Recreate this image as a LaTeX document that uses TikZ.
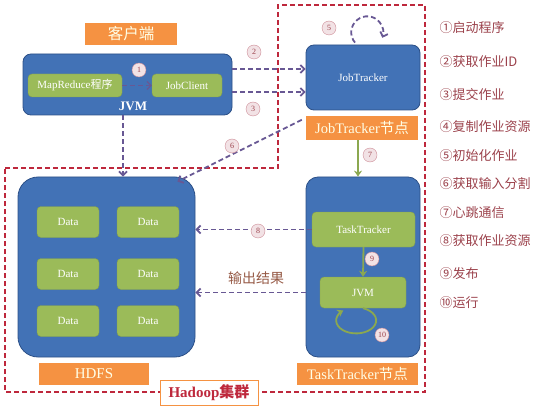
\documentclass[tikz,border=0pt]{standalone}
\usepackage{fontspec}
\setmainfont{Liberation Serif}
\newfontfamily\cjk{Noto Sans CJK SC}
\usetikzlibrary{arrows.meta,positioning}
\definecolor{boxblue}{RGB}{66,114,182}
\definecolor{boxedge}{RGB}{44,80,135}
\definecolor{leafgreen}{RGB}{155,187,89}
\definecolor{tagorange}{RGB}{245,146,66}
\definecolor{flowpurple}{RGB}{104,88,148}
\definecolor{framered}{RGB}{190,40,60}
\definecolor{notered}{RGB}{155,65,75}
\definecolor{markpink}{RGB}{205,140,150}
\definecolor{resultbrown}{RGB}{150,90,70}
\begin{document}
\begin{tikzpicture}[x=1pt,y=-1pt,
  bluebox/.style={draw=boxedge,fill=boxblue,rounded corners=8pt,line width=0.8pt,inner sep=0pt},
  greenbox/.style={fill=leafgreen,draw=leafgreen!85!black,rounded corners=4pt,text=white,inner sep=0pt,font=\fontsize{11}{12}\selectfont},
  tag/.style={fill=tagorange,text=white!90!yellow,inner sep=0pt,font=\fontsize{14.5}{16}\selectfont},
  flow/.style={draw=flowpurple,line width=1.8pt,dash pattern=on 5pt off 3pt,-{Straight Barb[length=4pt,width=8pt]}},
  pulse/.style={draw=leafgreen!90!black,line width=1.8pt,-{Stealth[length=6pt,width=8pt]}},
  numtag/.style={circle,draw=markpink,fill=markpink!25,text=notered,inner sep=0pt,minimum size=14pt,font=\fontsize{8}{8}\selectfont},
  legend/.style={anchor=west,text=notered,font=\cjk\fontsize{13}{15}\selectfont}]
  \useasboundingbox (0,0) rectangle (559,406);

  \draw[framered,line width=1.5pt,dash pattern=on 5pt off 3pt]
    (5,168) -- (278,168) -- (278,5) -- (425,5) -- (425,392) -- (5,392) -- cycle;

  \node[tag,minimum width=92pt,minimum height=22pt] (clienttag) at (131,34) {\cjk\fontsize{15.5}{17}\selectfont 客户端};
  \node[bluebox,minimum width=209pt,minimum height=61pt] (client) at (127.5,84.5) {};
  \node[greenbox,minimum width=94pt,minimum height=23pt] (mrprog) at (75,85.5) {MapReduce{\cjk 程序}};
  \node[greenbox,minimum width=70pt,minimum height=23pt] (jobclient) at (187,85.5) {JobClient};
  \node[text=white,font=\bfseries\fontsize{13}{14}\selectfont] (clientjvm) at (133,106) {JVM};

  \node[bluebox,minimum width=114pt,minimum height=65pt,text=white,font=\fontsize{11}{12}\selectfont] (jt) at (363,77.5) {JobTracker};
  \node[tag,minimum width=112pt,minimum height=24pt] (jttag) at (362,128) {JobTracker{\cjk 节点}};

  \node[bluebox,minimum width=177pt,minimum height=180pt,rounded corners=20pt] (hdfs) at (106.5,267) {};
  \foreach \col/\cx in {a/68,b/148}
    \foreach \row/\cy in {1/222,2/274,3/321}
      \node[greenbox,minimum width=62pt,minimum height=31pt] (data\col\row) at (\cx,\cy) {Data};
  \node[tag,minimum width=110pt,minimum height=22pt,font=\fontsize{15}{16}\selectfont] (hdfstag) at (94,374) {HDFS};

  \node[bluebox,minimum width=114pt,minimum height=180pt,rounded corners=12pt] (tt) at (363,267) {};
  \node[greenbox,minimum width=103pt,minimum height=35pt] (ttask) at (363.5,229.5) {TaskTracker};
  \node[greenbox,minimum width=86pt,minimum height=31pt] (ttjvm) at (363,292.5) {JVM};
  \node[tag,minimum width=121pt,minimum height=22pt] (tttag) at (357.5,374) {TaskTracker{\cjk 节点}};

  \node[fill=white,draw=tagorange,line width=0.8pt,inner sep=0pt,minimum width=98pt,minimum height=25pt,
    text=framered,font=\bfseries\fontsize{15}{16}\selectfont] (cluster) at (209,392.5) {Hadoop{\cjk 集群}};

  \draw[flow,line width=1.2pt] (mrprog) -- (jobclient);
  \draw[flow] ([yshift=15.5pt]client.east) -- ([yshift=15.5pt]client.east -| jt.west);
  \draw[flow] ([yshift=-7.5pt]client.east) -- ([yshift=-7.5pt]client.east -| jt.west);
  \draw[flow] ([xshift=-8pt,yshift=2pt]jt.north) arc[start angle=220,end angle=-20,radius=16pt];
  \draw[flow] ([xshift=-4pt,yshift=-4pt]jttag.north west) -- ([xshift=-18pt,yshift=-5pt]hdfs.north east);
  \draw[flow] ([xshift=-4.5pt]client.south) -- ([xshift=-4.5pt]client.south |- hdfs.north);
  \draw[flow] (ttask.west) -- (ttask.west -| hdfs.east);
  \draw[flow] (tt.west |- ttjvm.west) -- (hdfs.east |- ttjvm.west);
  \draw[pulse] ([xshift=-4pt]jttag.south) -- ([xshift=-4pt]jttag.south |- tt.north);
  \draw[pulse] (ttask.south) -- (ttjvm.north);
  \draw[pulse] (ttjvm.south) arc[start angle=70,end angle=-230,x radius=20pt,y radius=13pt];

  \node[text=resultbrown,font=\cjk\fontsize{14}{16}\selectfont] (result) at (256,278) {输出结果};

  \node[numtag] (m1) at (139,70) {1};
  \node[numtag] (m2) at (254,52) {2};
  \node[numtag] (m3) at (253,109) {3};
  \node[numtag] (m5) at (329,28) {5};
  \node[numtag] (m6) at (232,146) {6};
  \node[numtag] (m7) at (370,155) {7};
  \node[numtag] (m8) at (258,231) {8};
  \node[numtag] (m9) at (372,259) {9};
  \node[numtag] (m10) at (382,335) {10};

  \foreach \i/\t/\y in {1/①启动程序/28,2/②获取作业ID/62,3/③提交作业/95,4/④复制作业资源/127,
      5/⑤初始化作业/156,6/⑥获取输入分割/184,7/⑦心跳通信/213,8/⑧获取作业资源/241,9/⑨发布/274,10/⑩运行/303}
    \node[legend] (leg\i) at (436,\y) {\t};
\end{tikzpicture}
\end{document}
